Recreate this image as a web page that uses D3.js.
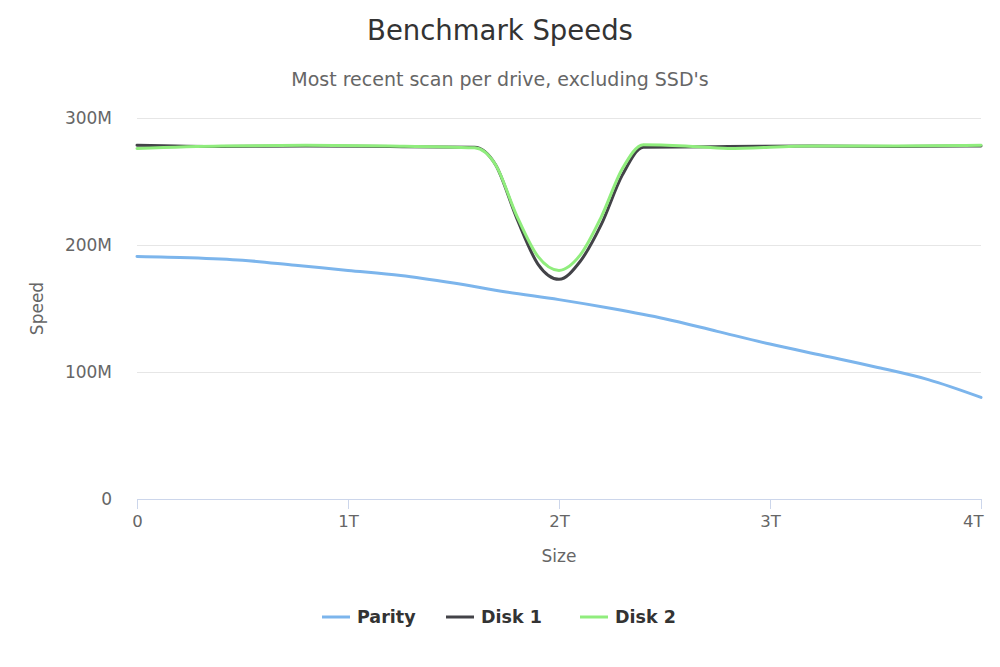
<!DOCTYPE html>
<html><head><meta charset="utf-8">
<script src="https://cdn.jsdelivr.net/npm/d3@7"></script>
<style>
html,body{margin:0;padding:0;background:#fff;}
svg{display:block;}
text{font-family:"DejaVu Sans",sans-serif;}
</style></head>
<body><svg id="c" width="1000" height="667"></svg>
<script>
// ---- data (sizes in TB, speeds in MB/s -> displayed as M) ----
const seriesNames = ["Parity", "Disk 1", "Disk 2"];
const seriesColors = ["#7cb5ec", "#434348", "#90ed7d"];

const parityX = [0, 0.25, 0.5, 0.75, 1.0, 1.25, 1.5, 1.75, 2.0, 2.25, 2.5, 2.75, 3.0, 3.25, 3.5, 3.75, 4.0];
const parityY = [191, 190, 188, 184, 180, 176, 170, 163, 157, 150, 142, 132, 122, 113, 104, 94, 80];

const disk1X = [0, 0.4, 0.8, 1.2, 1.6, 1.7, 1.8, 1.9, 2.0, 2.1, 2.2, 2.3, 2.4, 2.8, 3.2, 3.6, 4.0];
const disk1Y = [278.5, 277.5, 278, 277.5, 277, 263, 221, 185, 173, 187, 216, 255, 277, 277.5, 278, 277.5, 278];

const disk2X = [0, 0.4, 0.8, 1.2, 1.6, 1.7, 1.8, 1.9, 2.0, 2.1, 2.2, 2.3, 2.4, 2.6, 2.8, 3.2, 3.6, 4.0];
const disk2Y = [276, 278, 278.5, 278, 276.5, 263, 223, 191, 180, 192, 222, 260, 279, 278, 276, 278, 278, 278.5];

const yTicks = [0, 100, 200, 300];
const yTickLabels = ["0", "100M", "200M", "300M"];
const xTicks = [0, 1, 2, 3, 4];
const xTickLabels = ["0", "1T", "2T", "3T", "4T"];

const titleText = "Benchmark Speeds";
const subtitleText = "Most recent scan per drive, excluding SSD's";
const xTitle = "Size";
const yTitle = "Speed";

// ---- drawing ----
const svg = d3.select("#c");
const L = 137, R = 981, T = 118, B = 499;
const x = d3.scaleLinear().domain([0, 4]).range([L, R]);
const y = d3.scaleLinear().domain([0, 300]).range([B, T]);

svg.append("text").attr("x",500).attr("y",40).attr("text-anchor","middle")
  .attr("font-size",27.5).attr("fill","#333").text(titleText);
svg.append("text").attr("x",500).attr("y",86).attr("text-anchor","middle")
  .attr("font-size",19).attr("fill","#666").text(subtitleText);

// grid
const yAxis = d3.axisLeft(y).tickValues(yTicks).tickSize(-(R-L)).tickFormat((d,i)=>yTickLabels[i]).tickPadding(25);
const gy = svg.append("g").attr("transform",`translate(${L},0)`).call(yAxis);
gy.attr("font-family",null);
gy.select(".domain").remove();
gy.selectAll(".tick line").attr("stroke","#e6e6e6").attr("stroke-width",1)
  .filter(d=>d===0).remove();
gy.selectAll(".tick text").attr("font-size",17).attr("fill","#666");

// x axis
const xAxis = d3.axisBottom(x).tickValues(xTicks).tickSize(10).tickSizeOuter(0).tickFormat((d,i)=>xTickLabels[i]).tickPadding(6);
const gx = svg.append("g").attr("transform",`translate(0,${B})`).call(xAxis);
gx.attr("font-family",null);
gx.select(".domain").attr("stroke","#ccd6eb");
gx.selectAll(".tick line").attr("stroke","#ccd6eb");
gx.selectAll(".tick text").attr("font-size",16.5).attr("fill","#666")
  .attr("text-anchor",(d)=> d===4 ? "end" : "middle").attr("dx",(d)=> d===4 ? 2 : 0);

svg.append("text").attr("x",(L+R)/2).attr("y",562).attr("text-anchor","middle")
  .attr("font-size",17).attr("fill","#666").text(xTitle);
svg.append("text").attr("transform",`translate(43,${(T+B)/2}) rotate(-90)`).attr("text-anchor","middle")
  .attr("font-size",17).attr("fill","#666").text(yTitle);

// lines
const line = d3.line().x(d=>x(d[0])).y(d=>y(d[1])).curve(d3.curveMonotoneX);
const data = [
  d3.zip(parityX, parityY),
  d3.zip(disk1X, disk1Y),
  d3.zip(disk2X, disk2Y)
];
const plot = svg.append("g");
data.forEach((s,i)=>{
  plot.append("path").datum(s).attr("d",line).attr("fill","none")
    .attr("stroke",seriesColors[i]).attr("stroke-width",3).attr("stroke-linejoin","round").attr("stroke-linecap","round");
});

// legend
const legendX = [322, 446, 580];
const lg = svg.append("g");
seriesNames.forEach((n,i)=>{
  lg.append("line").attr("x1",legendX[i]).attr("x2",legendX[i]+28).attr("y1",617).attr("y2",617)
    .attr("stroke",seriesColors[i]).attr("stroke-width",3);
  lg.append("text").attr("x",legendX[i]+35).attr("y",623).attr("font-size",17.5)
    .attr("font-weight","bold").attr("fill","#333").text(n);
});
</script></body></html>
